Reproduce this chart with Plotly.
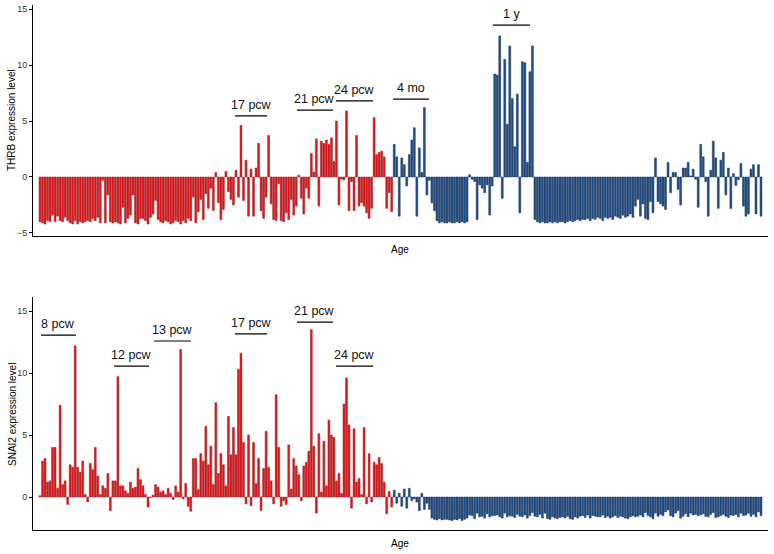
import plotly.graph_objects as go

# ---------------- data ----------------
n_prenatal = 141  # first bars are prenatal samples (red), the rest postnatal (blue)

thrb = [
    # prenatal
    -4.0, -4.1, -4.2, -3.9, -4.0, -3.4, -4.0, -3.5, -3.9, -4.0,
    -3.6, -3.9, -4.1, -4.2, -3.9, -4.2, -4.0, -4.1, -4.0, -3.9,
    -4.0, -3.7, -3.9, -3.6, -4.1, -0.3, -4.1, -1.6, -4.0, -4.1,
    -4.0, -4.1, -4.2, -2.7, -4.1, -3.7, -3.4, -1.6, -4.1, -4.2,
    -3.7, -3.7, -3.9, -4.2, -3.6, -3.3, -2.1, -3.8, -4.0, -4.1,
    -3.9, -4.0, -4.2, -4.1, -3.9, -4.0, -4.2, -3.9, -4.1, -3.7,
    -3.9, -1.8, -4.1, -3.1,
    -2.0, -3.8, -1.5, -2.8, -1.0, -3.0, 0.4, -2.3, -3.8, -2.9,
    0.5, -1.3, -2.0, -2.5, 0.6, -1.8, 4.6, -2.1, 1.5, -3.5,
    0.7, -3.5, 0.8, 3.0, -3.0, -3.7, -1.8, 3.7, -2.4, -3.8,
    -3.9, -0.6, -3.9, -4.0, -3.2, -3.8, -2.0, -3.4, -2.6, 0.15,
    -1.9, -3.3, -1.0, -1.9, 2.1, 0.45, 3.4, -2.6, 3.2, 3.0,
    3.3, 2.9, 3.5, 1.4, 5.0, -2.5, -0.2, -0.25, 5.9, -3.0,
    -0.4, -3.0, 3.7, -2.6, -2.3, -2.6, -3.2, -3.7, -2.8, 5.3,
    2.0, 2.2, 2.3, 1.8, -2.8, -1.4, -3.1,
    # postnatal
    2.9, 1.8, -3.5, 1.7, 1.1, -0.8, 2.0, 3.3, 4.4, -3.5,
    2.6, 0.4, 6.2, -1.6, -0.3, -2.3,
    -3.0, -3.9, -4.1, -4.0, -4.1, -4.1, -4.0, -4.1, -4.1, -4.0,
    -4.1, -4.0, -4.1, -4.0,
    0.2, -0.2, -0.4, -3.8, -0.7, -1.0, -1.4, -0.7, -3.4, -0.8,
    9.2, 9.1, 12.6, -1.9, 10.5, 4.7, 11.7, 7.0, 2.7, 7.4,
    -3.2, 10.3, 10.2, 1.3, 9.4, 11.7, -3.8,
    -4.0, -4.1, -4.0, -4.1, -4.1, -4.0, -4.1, -4.0, -4.1, -4.0,
    -4.0, -4.1, -4.0, -3.9, -4.0, -3.9,
    -3.8, -3.9, -3.8, -3.8, -3.7, -3.9, -3.7, -3.8, -3.6, -3.7,
    -3.9, -3.6, -3.7,
    -3.6, -3.8, -3.5, -3.6, -3.7, -3.4, -3.6, -3.5, -3.3, -3.6,
    -2.6, -2.0, -3.5, -2.4, -3.7, -3.8, -2.2, -3.2,
    1.7, -2.2, -2.4, -2.6, -2.9, 1.3, -1.4, 0.4, 0.4, -1.1,
    -2.5,
    0.8, 0.8, 1.3, 0.1, 0.7, -0.2, -2.7, 2.9, 1.8, -0.4,
    -3.5, 0.6, 3.2, 1.7, -2.8, 1.5, 2.2, -1.6, 0.8, -2.8,
    0.3, -0.75, -0.25, 1.2, -2.6, -3.5, -3.3, 0.7, 1.1, -3.3,
    1.1, -3.5,
]

snai2 = [
    # prenatal
    0.1, 2.9, 3.1, 1.2, 1.3, 4.0, 4.0, 0.7, 7.4,
    1.0, 1.3, -0.6, 2.6, 2.4, 12.2,
    2.4, 2.0, 2.9, 0.2, -0.4, 2.7, 2.2, 4.0, 1.7, 0.2,
    0.9, 0.7, 1.9, -1.1, 1.3, 1.3,
    9.7,
    0.9, 0.9, 0.5, 0.3, 1.2, 0.7, 0.8, 2.3, 1.4, 0.9,
    0.2, -0.8, -0.05, 0.15, 1.0, 0.8, 0.4, 0.5, 0.2, 0.7,
    0.3, -0.2, 0.9, 0.4,
    11.9,
    -0.15, 1.1, -0.75, -1.15, 3.1, 3.1, 0.6, 3.5, 2.9, 5.7,
    2.6, 4.1, 1.0, 7.6, 1.9, 3.5, 2.6, 0.9, 6.5, 3.4,
    5.6, 3.4,
    10.3, 11.6,
    4.4, -0.55, 5.0, -0.7, 4.4, 1.1, 3.1, -1.1, 2.3, 5.3,
    2.4, 1.3, -0.55, 8.25, 4.0, -0.75, -0.3,
    -0.6, 4.2, 0.65, 3.1, 2.5, 1.8, -0.3, 2.5, 2.8, 3.7,
    13.5,
    4.1, -1.3, 5.1, 0.4, 4.5, 0.9, 6.2, 5.0, 4.8, 1.3,
    1.9, 0.3, 7.5, 9.6, 5.8, -0.9, 5.5, 1.2, 1.5, 0.2,
    5.6, -0.55, 3.5, -0.4, 2.8, 2.6, 3.2, 2.7, 1.2, -1.35,
    0.45, -0.8,
    # postnatal
    0.55, -0.5, 0.3, -0.75, 0.65, -0.9, 0.7, -0.3, -0.15, -0.4,
    -1.1, 0.3, -1.0, -0.5, -1.0,
    -1.7, -1.8, -1.85, -1.75, -1.85, -1.8, -1.8, -1.85, -1.9, -1.8,
    -1.85, -1.75, -1.9, -1.8, -1.7,
    -1.45, -1.5, -1.75, -1.3, -1.6, -1.55, -1.7, -1.35, -1.6, -1.5,
    -1.5, -1.45, -1.6, -1.7, -1.3, -1.6, -1.5, -1.55, -1.65, -1.4,
    -1.55, -1.6, -1.45, -1.7, -1.5, -1.25, -1.55, -1.6, -1.4, -1.7,
    -1.3, -1.75, -1.8, -1.6, -1.7, -1.75, -1.65, -1.6, -1.7, -1.55,
    -1.75, -1.8, -1.6, -1.7, -1.55, -1.5, -1.65, -1.45, -1.7, -1.5,
    -1.55, -1.6, -1.6, -1.45, -1.65, -1.55, -1.7, -1.6, -1.5, -1.65,
    -1.55, -1.6, -1.7, -1.75, -1.6, -1.5, -1.6, -1.55, -1.45, -1.6,
    -1.25, -1.5, -1.6, -1.75, -1.3, -1.55, -1.4, -1.5,
    -1.2, -1.05, -1.5, -1.6, -1.3, -1.1, -1.7, -1.55, -1.35, -1.6,
    -1.3, -1.45, -1.4, -1.5, -1.45, -1.35, -1.55, -1.6, -1.4, -1.25,
    -1.65, -1.6, -1.5, -1.4, -1.55, -1.65, -1.45, -1.5, -1.4, -1.6,
    -1.3, -1.5, -1.45, -1.3, -1.55, -1.4, -1.6, -1.2, -1.5,
]

y_ticks = [-5, 0, 5, 10, 15]

# age labels: (text, first bar index, last bar index, level)
thrb_labels = [
    ("17 pcw", 77.6, 90.4, 5.45),
    ("21 pcw", 102.3, 116.6, 5.98),
    ("24 pcw", 117.8, 132.6, 6.79),
    ("4 mo", 140.5, 154.9, 6.96),
    ("1 y", 180.3, 195.1, 13.57),
]
snai2_labels = [
    ("8 pcw", 0.4, 14.3, 13.06),
    ("12 pcw", 29.5, 43.4, 10.56),
    ("13 pcw", 45.4, 60.1, 12.58),
    ("17 pcw", 77.6, 90.4, 13.15),
    ("21 pcw", 102.3, 116.6, 14.11),
    ("24 pcw", 117.8, 132.6, 10.56),
]

# ---------------- figure ----------------
N = len(thrb)
idx = list(range(N))
RED, RED_LINE = "#E0191C", "#9E1518"
BLUE, BLUE_LINE = "#23508A", "#0E2B50"
fill = [RED if i < n_prenatal else BLUE for i in idx]
edge = [RED_LINE if i < n_prenatal else BLUE_LINE for i in idx]

FONT = "Liberation Sans, Arial, Helvetica, sans-serif"

fig = go.Figure()
fig.add_trace(go.Bar(x=idx, y=thrb, marker=dict(color=fill, line=dict(color=edge, width=0.5)),
                     xaxis="x", yaxis="y", showlegend=False, hoverinfo="skip"))
fig.add_trace(go.Bar(x=idx, y=snai2[:N], marker=dict(color=fill, line=dict(color=edge, width=0.5)),
                     xaxis="x2", yaxis="y2", showlegend=False, hoverinfo="skip"))

W, H = 774, 554
x_dom = [33 / W, 768 / W]
pitch = (761 - 40) / (N - 1)
x_rng = [-(40 - 33) / pitch, (N - 1) + (768 - 761) / pitch]

xcommon = dict(range=x_rng, showline=True, linecolor="black", linewidth=1, automargin=False,
               showticklabels=False, ticks="", showgrid=False, zeroline=False)
ycommon = dict(showline=True, linecolor="black", linewidth=1, ticks="outside", ticklen=3,
               automargin=False,
               tickcolor="black", tickwidth=1, tickvals=y_ticks, showgrid=False, zeroline=False,
               tickfont=dict(size=9, color="#333333", family=FONT))

fig.update_layout(
    width=W, height=H, margin=dict(l=0, r=0, t=0, b=0, autoexpand=False),
    paper_bgcolor="white", plot_bgcolor="white", bargap=0.25,
    font=dict(family=FONT, color="black"),
    xaxis=dict(domain=x_dom, anchor="y", **xcommon),
    yaxis=dict(domain=[1 - 236 / H, 1 - 5 / H], anchor="x", range=[-5.27, 15.36], **ycommon),
    xaxis2=dict(domain=x_dom, anchor="y2", **xcommon),
    yaxis2=dict(domain=[1 - 530 / H, 1 - 297 / H], anchor="x2", range=[-2.66, 16.13], **ycommon),
)

shapes, annots = [], []
for labels, xr, yr in ((thrb_labels, "x", "y"), (snai2_labels, "x2", "y2")):
    for text, x0, x1, lvl in labels:
        shapes.append(dict(type="line", xref=xr, yref=yr, x0=x0, x1=x1, y0=lvl, y1=lvl,
                           line=dict(color="black", width=1.2)))
        annots.append(dict(text=text, xref=xr, yref=yr, x=(x0 + x1) / 2, y=lvl,
                           yshift=11, showarrow=False, xanchor="center", yanchor="middle",
                           font=dict(size=12.5, color="#111111", family=FONT)))

annots += [
    dict(text="THRB expression level", xref="paper", yref="paper", x=12 / W, y=1 - 120 / H,
         xanchor="center", yanchor="middle",
         textangle=-90, showarrow=False, font=dict(size=10, family=FONT)),
    dict(text="Age", xref="paper", yref="paper", x=400 / W, y=1 - 250 / H,
         xanchor="center", yanchor="middle",
         showarrow=False, font=dict(size=10, family=FONT)),
    dict(text="SNAI2 expression level", xref="paper", yref="paper", x=12 / W, y=1 - 415 / H,
         xanchor="center", yanchor="middle",
         textangle=-90, showarrow=False, font=dict(size=10, family=FONT)),
    dict(text="Age", xref="paper", yref="paper", x=400 / W, y=1 - 543 / H,
         xanchor="center", yanchor="middle",
         showarrow=False, font=dict(size=10, family=FONT)),
]
fig.update_layout(shapes=shapes, annotations=annots)

fig.write_html("out.html", config={"displayModeBar": False, "staticPlot": True},
               post_script="document.body.style.margin='0';document.body.style.overflow='hidden';")
